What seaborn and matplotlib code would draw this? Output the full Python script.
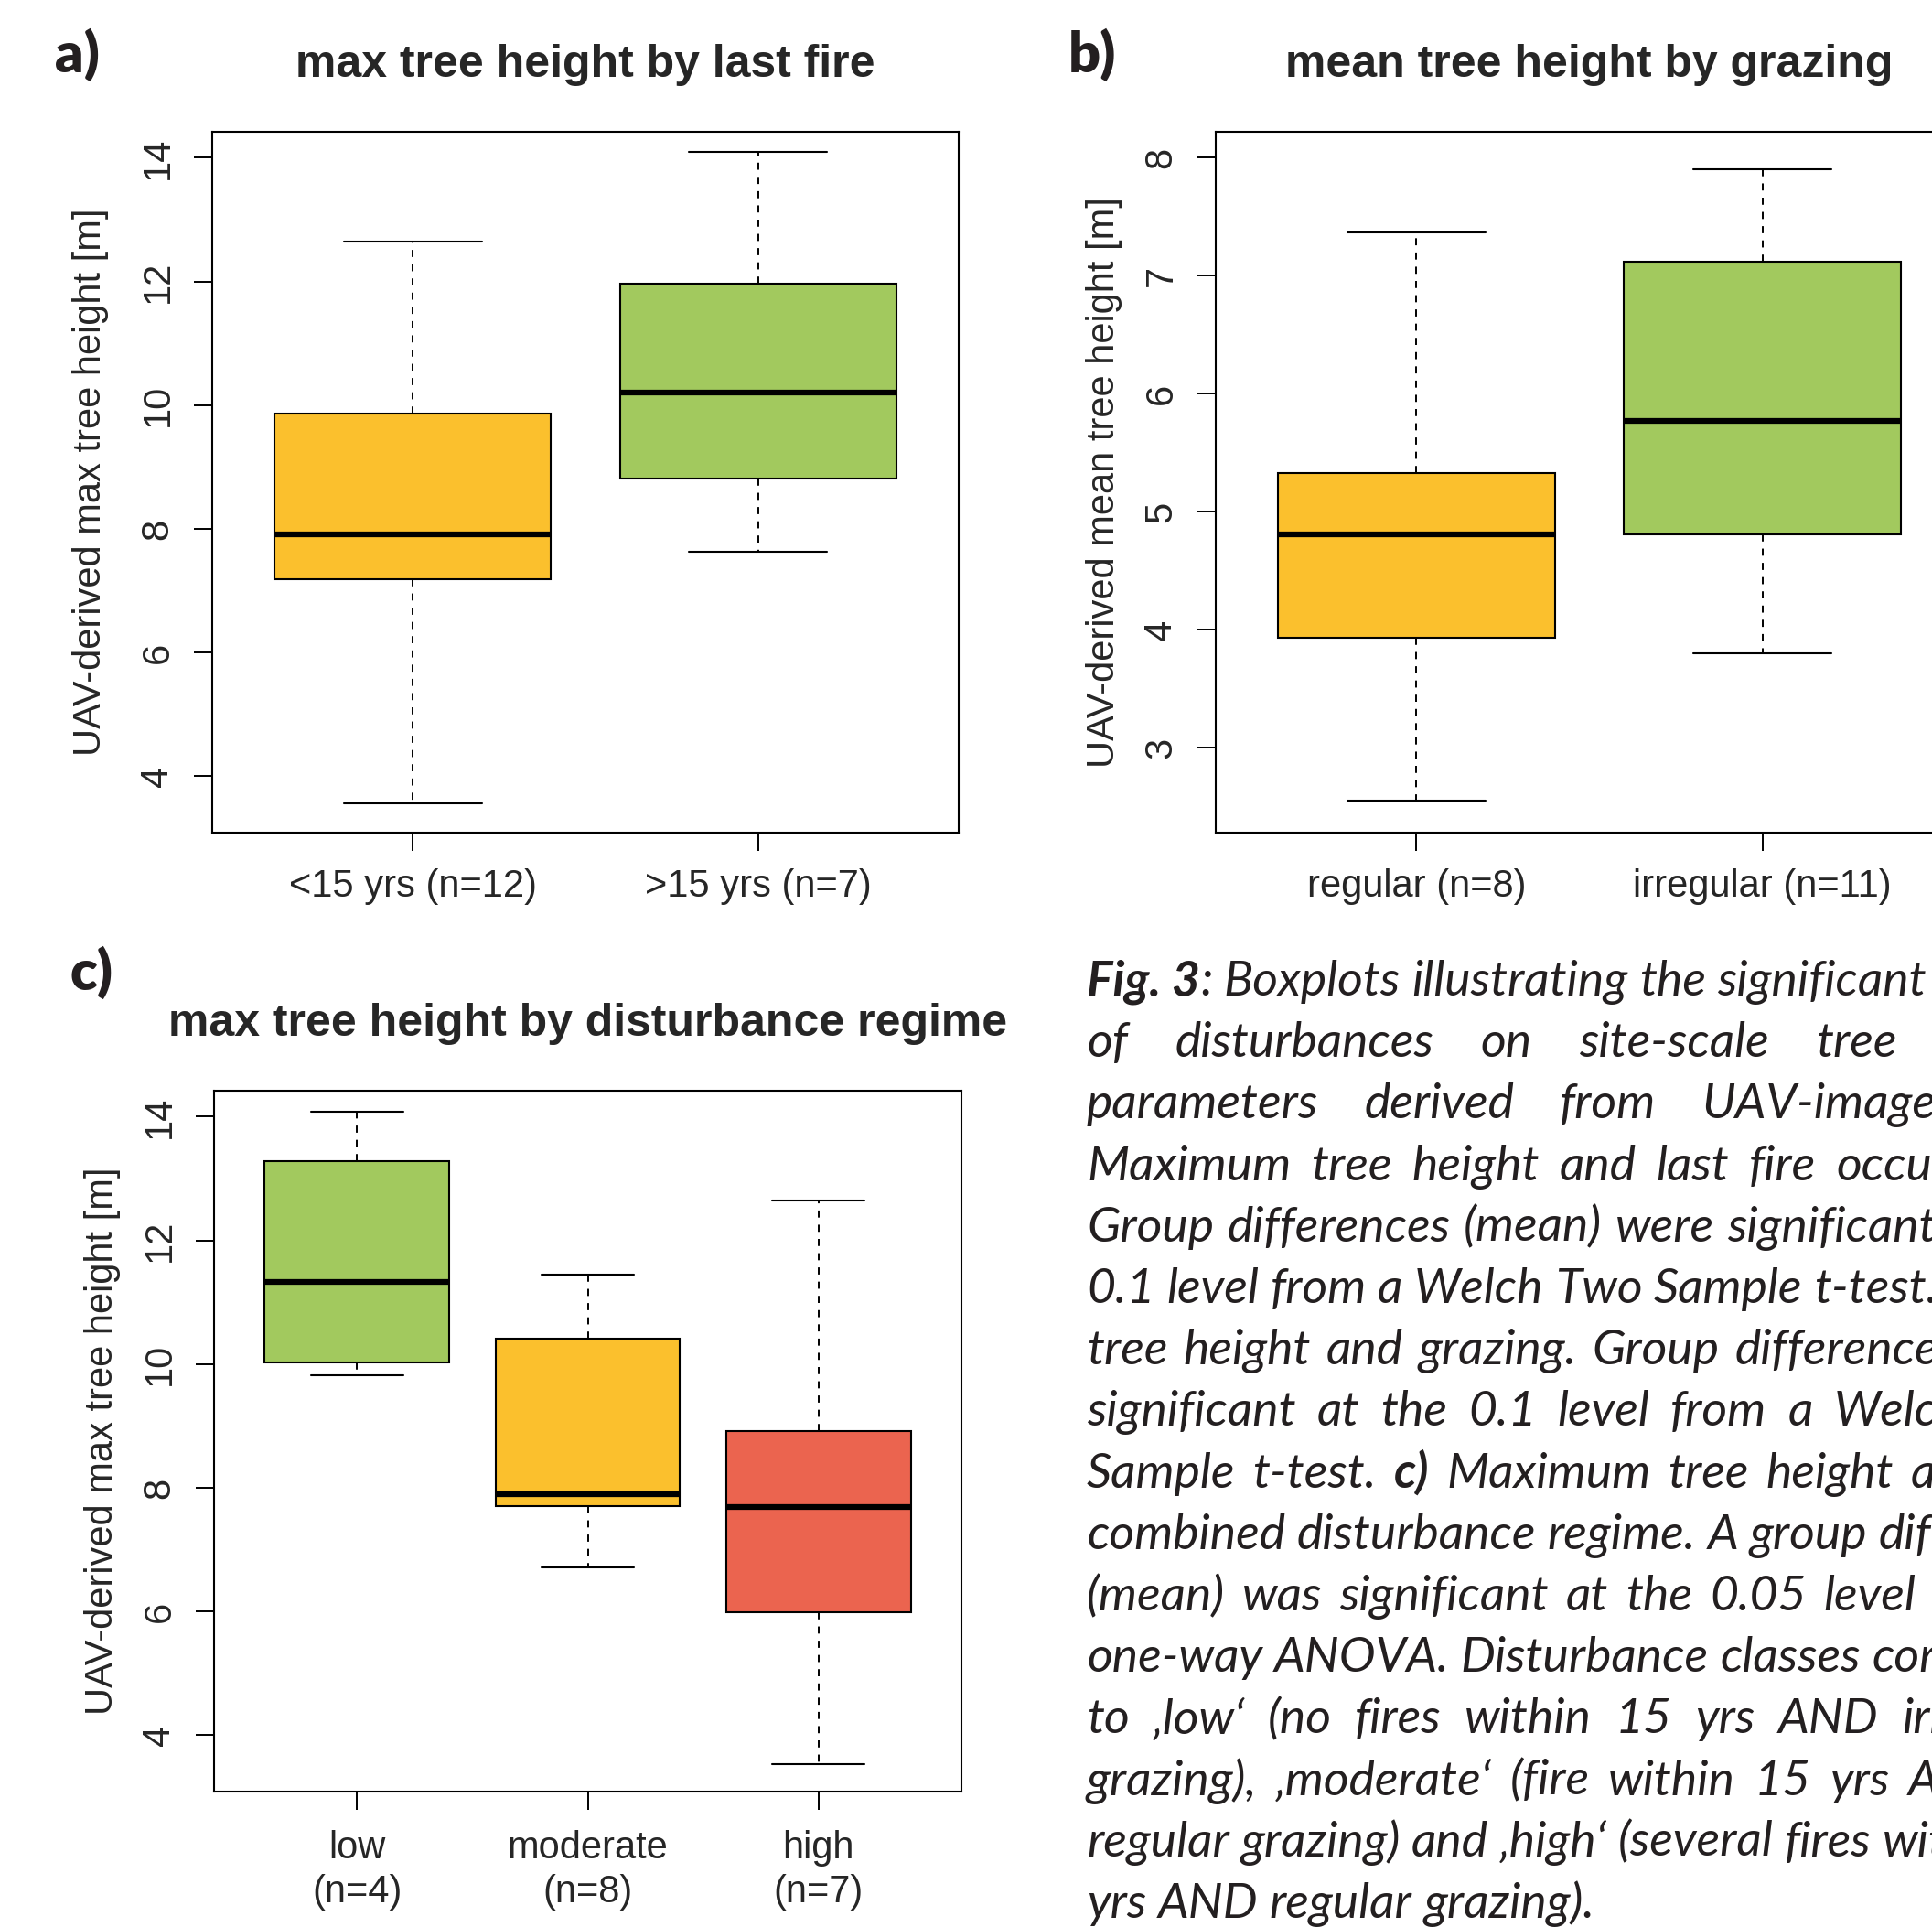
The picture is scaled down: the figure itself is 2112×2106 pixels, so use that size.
import numpy as np
import pandas as pd
import matplotlib
matplotlib.use("Agg")
import matplotlib.pyplot as plt
import seaborn as sns

# five-number summaries: whisker low, Q1, median, Q3, whisker high
fire_groups = ["<15 yrs (n=12)", ">15 yrs (n=7)"]
fire_min = [3.56, 7.63]
fire_q1 = [7.19, 8.81]
fire_med = [7.91, 10.21]
fire_q3 = [9.87, 11.96]
fire_max = [12.64, 14.09]
fire_colors = ["#FBC02D", "#A2C95E"]

graz_groups = ["regular (n=8)", "irregular (n=11)"]
graz_min = [2.55, 3.80]
graz_q1 = [3.93, 4.81]
graz_med = [4.81, 5.77]
graz_q3 = [5.33, 7.12]
graz_max = [7.37, 7.90]
graz_colors = ["#FBC02D", "#A2C95E"]

dist_groups = ["low\n(n=4)", "moderate\n(n=8)", "high\n(n=7)"]
dist_min = [9.82, 6.71, 3.54]
dist_q1 = [10.02, 7.70, 5.99]
dist_med = [11.33, 7.90, 7.69]
dist_q3 = [13.28, 10.41, 8.92]
dist_max = [14.08, 11.45, 12.65]
dist_colors = ["#A2C95E", "#FBC02D", "#EB644F"]

max_ticks = [4, 6, 8, 10, 12, 14]
mean_ticks = [3, 4, 5, 6, 7, 8]
max_ylim = (3.09, 14.42)
mean_ylim = (2.28, 8.22)

# caption lines as set in the figure (the right part runs past the edge)
caption_lines = [
    "**Fig.\u00a03**: Boxplots illustrating the significant effects",
    "of disturbances on site-scale tree height",
    "parameters derived from UAV-imagery. **a)**",
    "Maximum tree height and last fire occurrence.",
    "Group differences (mean) were significant at the",
    "0.1 level from a Welch Two Sample t-test. **b)** Mean",
    "tree height and grazing. Group differences were",
    "significant at the 0.1 level from a Welch Two",
    "Sample t-test. **c)** Maximum tree height and the",
    "combined disturbance regime. A group difference",
    "(mean) was significant at the 0.05 level from a",
    "one-way ANOVA. Disturbance classes correspond",
    "to \u201alow\u2018 (no fires within 15 yrs AND irregular",
    "grazing), \u201amoderate\u2018 (fire within 15 yrs AND ir-",
    "regular grazing) and \u201ahigh\u2018 (several fires within 15",
    "yrs AND regular grazing).",
]

sns.set_style("white")
plt.rcParams["font.family"] = ["Liberation Sans", "DejaVu Sans"]

W, H = 2112, 2106
fig = plt.figure(figsize=(W / 100, H / 100), dpi=100)


def px_axes(left, top, right, bottom):
    return fig.add_axes([left / W, 1 - bottom / H, (right - left) / W, (bottom - top) / H])


def five_num_frame(groups, lo, q1, med, q3, hi):
    rows = []
    for g, a, b, c, d, e in zip(groups, lo, q1, med, q3, hi):
        for v in (a, b, c, d, e):
            rows.append({"group": g, "value": v})
    return pd.DataFrame(rows)


def draw_panel(ax, df, groups, colors, ylim, yticks, ylabel, label_x, xpad):
    sns.boxplot(data=df, x="group", y="value", hue="group", order=groups,
                hue_order=groups, palette=colors, saturation=1, width=0.8,
                whis=(0, 100), linecolor="black", linewidth=1.5, fliersize=0,
                legend=False, ax=ax,
                medianprops={"linewidth": 4.5, "color": "black"},
                whiskerprops={"linestyle": (0, (4, 4)), "linewidth": 1.4},
                capprops={"linewidth": 1.5})
    n = len(groups)
    ax.set_xlim(-0.5 - 0.04 * n, n - 0.5 + 0.04 * n)
    ax.set_ylim(*ylim)
    ax.set_yticks(yticks)
    ax.set_yticklabels([str(t) for t in yticks])
    ax.set_xlabel("")
    ax.set_ylabel(ylabel, fontsize=30)
    ax.yaxis.set_label_coords(label_x, 0.5)
    for s in ax.spines.values():
        s.set_visible(True)
        s.set_linewidth(1.5)
        s.set_color("black")
    ax.tick_params(axis="both", which="major", direction="out", length=14.5,
                   width=1.4, color="black", labelsize=30, left=True, bottom=True)
    ax.tick_params(axis="y", labelrotation=90, pad=14)
    ax.tick_params(axis="x", pad=xpad)
    for lab in ax.get_yticklabels():
        lab.set_verticalalignment("center")
    for lab in ax.get_xticklabels():
        lab.set_linespacing(1.25)


ax_a = px_axes(232, 144, 1048, 910)
draw_panel(ax_a, five_num_frame(fire_groups, fire_min, fire_q1, fire_med, fire_q3, fire_max),
           fire_groups, fire_colors, max_ylim, max_ticks,
           "UAV-derived max tree height [m]", -0.139, 13.5)

ax_b = px_axes(1329, 144, 2146, 910)
draw_panel(ax_b, five_num_frame(graz_groups, graz_min, graz_q1, graz_med, graz_q3, graz_max),
           graz_groups, graz_colors, mean_ylim, mean_ticks,
           "UAV-derived mean tree height [m]", -0.125, 13.5)

ax_c = px_axes(234, 1192, 1051, 1958)
draw_panel(ax_c, five_num_frame(dist_groups, dist_min, dist_q1, dist_med, dist_q3, dist_max),
           dist_groups, dist_colors, max_ylim, max_ticks,
           "UAV-derived max tree height [m]", -0.125, 16)

# panel titles and letters
title_kw = dict(fontsize=36, fontweight="bold", ha="center", va="center")
fig.text((232 + 1048) / 2 / W, 1 - 71 / H, "max tree height by last fire", **title_kw)
fig.text((1329 + 2146) / 2 / W, 1 - 71 / H, "mean tree height by grazing", **title_kw)
fig.text((234 + 1051) / 2 / W, 1 - 1119 / H, "max tree height by disturbance regime", **title_kw)

letter_kw = dict(fontsize=44, fontweight="heavy", ha="center", va="center",
                 family=["Lato", "DejaVu Sans"], color="#231f20")
fig.text(84 / W, 1 - 60 / H, "a)", **letter_kw)
fig.text(1194 / W, 1 - 60 / H, "b)", **letter_kw)
fig.text(100 / W, 1 - 1063 / H, "c)", **letter_kw)

# justified caption on the right
fig.canvas.draw()
renderer = fig.canvas.get_renderer()
cap_font = ["Lato", "DejaVu Sans"]
cap_size = 38.5
cap_x0, cap_x1 = 1188, 2265
cap_y0, cap_dy = 1088, 67.2


def parse_words(line):
    words, bold = [], False
    for tok in line.split(" "):
        runs = []
        for i, part in enumerate(tok.split("**")):
            if i > 0:
                bold = not bold
            if part:
                runs.append((part, bold))
        words.append(runs)
    return words


def make_text(s, bold):
    return fig.text(0, 0, s, fontsize=cap_size, fontstyle="italic",
                    fontweight="bold" if bold else "normal", family=cap_font,
                    ha="left", va="baseline", color="#231f20")


probe = make_text("a a", False)
probe2 = make_text("aa", False)
space_w = probe.get_window_extent(renderer).width - probe2.get_window_extent(renderer).width
probe.remove()
probe2.remove()

for li, line in enumerate(caption_lines):
    words = parse_words(line)
    placed = []
    for runs in words:
        items = []
        wsum = 0
        for s, b in runs:
            t = make_text(s, b)
            w = t.get_window_extent(renderer).width
            items.append((t, wsum))
            wsum += w
        placed.append((items, wsum))
    total = sum(p[1] for p in placed)
    if li < len(caption_lines) - 1 and len(placed) > 1:
        gap = max((cap_x1 - cap_x0 - total) / (len(placed) - 1), space_w)
    else:
        gap = space_w
    x = cap_x0
    y = cap_y0 + li * cap_dy
    for items, wsum in placed:
        for t, off in items:
            t.set_position(((x + off) / W, 1 - y / H))
        x += wsum + gap

fig.savefig("out.png", dpi=100, facecolor="white")
